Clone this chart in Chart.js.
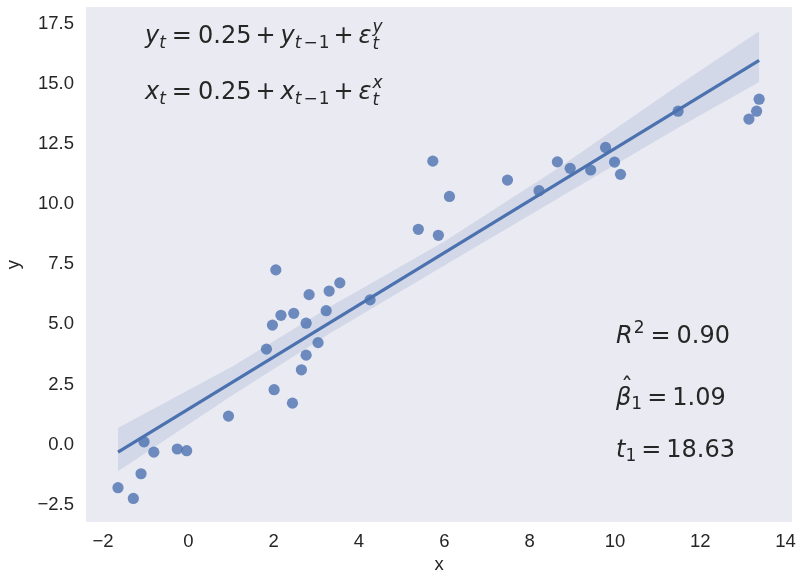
<!DOCTYPE html>
<html>
<head>
<meta charset="utf-8">
<script src="https://cdn.jsdelivr.net/npm/chart.js@4/dist/chart.umd.min.js"></script>
<style>
  html, body { margin: 0; padding: 0; background: #ffffff; }
  #wrap { width: 803px; height: 577px; }
</style>
</head>
<body>
<div id="wrap"><canvas id="chart" width="803" height="577"></canvas></div>
<script>
// scatter points
const pointsX = [-1.65, -1.29, -1.11, -1.04, -0.81, -0.26, -0.04, 0.94, 1.83, 1.97,
    2.17, 2.01, 2.44, 2.47, 2.76, 2.65, 2.76, 2.83, 3.04, 3.23,
    3.30, 3.55, 4.26, 2.05, 5.73, 5.39, 5.86, 6.12, 7.48, 8.22,
    8.65, 8.95, 9.43, 9.78, 9.99, 10.13, 11.48, 13.14, 13.32, 13.38];
const pointsY = [-1.80, -2.25, -1.22, 0.11, -0.32, -0.19, -0.26, 1.18, 3.97, 4.97,
    5.38, 2.28, 1.72, 5.46, 5.05, 3.11, 3.72, 6.24, 4.24, 5.57,
    6.39, 6.73, 6.02, 7.27, 11.80, 8.96, 8.71, 10.33, 11.01, 10.57,
    11.77, 11.50, 11.43, 12.37, 11.76, 11.25, 13.88, 13.55, 13.88, 14.38];

// fitted line ends
const fitX = [-1.65, 13.38];
const fitY = [-0.32, 16.00];

// confidence band edges
const bandX = [-1.65, 1.05, 3.32, 6.00, 8.71, 11.48, 13.38];
const bandUpper = [0.68, 3.27, 5.74, 8.45, 11.56, 14.95, 17.21];
const bandLower = [-1.12, 2.07, 4.63, 7.45, 10.30, 13.19, 15.10];

const xTicks = [-2, 0, 2, 4, 6, 8, 10, 12, 14];
const yTicks = [-2.5, 0, 2.5, 5, 7.5, 10, 12.5, 15, 17.5];

const blue = '#4C72B0';
const textColor = '#262626';
const tickFont = { family: '"Liberation Sans", Arial, sans-serif', size: 18.5 };
const mathFont = '"DejaVu Sans"';

const pairUp = (xs, ys) => xs.map((x, i) => ({ x: x, y: ys[i] }));
const minus = (s) => s.replace('-', '\u2212');

// grey panel behind the data
const panelPlugin = {
    id: 'panel',
    beforeDraw(chart) {
        const { ctx, chartArea: a } = chart;
        ctx.save();
        ctx.fillStyle = '#EAEAF2';
        ctx.fillRect(a.left, a.top, a.right - a.left, a.bottom - a.top);
        ctx.restore();
    }
};

// draws a row of pieces, each {t, it, s, dy, gap, stay}
function drawRun(ctx, x, y, pieces) {
    pieces.forEach(p => {
        ctx.font = `${p.it ? 'italic ' : ''}${p.s || 24}px ${mathFont}`;
        ctx.fillText(p.t, x, y + (p.dy || 0));
        if (!p.stay) {
            x += ctx.measureText(p.t).width + (p.gap || 0);
        }
    });
    return x;
}

function recursion(v) {
    return [
        { t: v, it: true },
        { t: 't', it: true, s: 17, dy: 5, gap: 6 },
        { t: '=', gap: 6 },
        { t: '0.25', gap: 4 },
        { t: '+', gap: 5 },
        { t: v, it: true },
        { t: 't', it: true, s: 17, dy: 5, gap: 2 },
        { t: '\u2212', s: 17, dy: 5, gap: 1 },
        { t: '1', s: 17, dy: 5, gap: 4 },
        { t: '+', gap: 5 },
        { t: '\u03b5', it: true, gap: 1 },
        { t: v, it: true, s: 17, dy: -11, stay: true },
        { t: 't', it: true, s: 17, dy: 6 }
    ];
}

const mathPlugin = {
    id: 'math',
    afterDraw(chart) {
        const ctx = chart.ctx;
        ctx.save();
        ctx.fillStyle = textColor;
        ctx.textBaseline = 'alphabetic';
        ctx.textAlign = 'left';

        drawRun(ctx, 145, 43, recursion('y'));
        drawRun(ctx, 145, 99, recursion('x'));

        drawRun(ctx, 616, 343, [
            { t: 'R', it: true, gap: 1 },
            { t: '2', s: 17, dy: -10, gap: 6 },
            { t: '=', gap: 6 },
            { t: '0.90' }
        ]);

        // beta hat
        ctx.font = `24px ${mathFont}`;
        ctx.fillText('\u02c6', 621, 395);
        drawRun(ctx, 616, 405, [
            { t: '\u03b2', it: true },
            { t: '1', s: 17, dy: 4, gap: 5 },
            { t: '=', gap: 5 },
            { t: '1.09' }
        ]);

        drawRun(ctx, 616, 457, [
            { t: 't', it: true },
            { t: '1', s: 17, dy: 4, gap: 5 },
            { t: '=', gap: 5 },
            { t: '18.63' }
        ]);
        ctx.restore();
    }
};

new Chart(document.getElementById('chart'), {
    type: 'scatter',
    data: {
        datasets: [
            {
                label: 'band upper',
                data: pairUp(bandX, bandUpper),
                showLine: true,
                borderWidth: 0,
                pointRadius: 0,
                backgroundColor: 'rgba(76, 114, 176, 0.15)',
                fill: '+1',
                order: 1
            },
            {
                label: 'band lower',
                data: pairUp(bandX, bandLower),
                showLine: true,
                borderWidth: 0,
                pointRadius: 0,
                fill: false,
                order: 1
            },
            {
                label: 'fit',
                data: pairUp(fitX, fitY),
                showLine: true,
                borderColor: blue,
                borderWidth: 3.2,
                pointRadius: 0,
                fill: false,
                order: 2
            },
            {
                label: 'points',
                data: pairUp(pointsX, pointsY),
                backgroundColor: 'rgba(76, 114, 176, 0.8)',
                borderWidth: 0,
                pointRadius: 5.6,
                order: 3
            }
        ]
    },
    options: {
        responsive: false,
        animation: false,
        layout: { padding: { left: 0, top: 7, right: 11, bottom: 0 } },
        plugins: {
            legend: { display: false },
            tooltip: { enabled: false },
            filler: { drawTime: 'beforeDatasetDraw' }
        },
        scales: {
            x: {
                type: 'linear',
                min: -2.40,
                max: 14.15,
                grid: { display: false, drawTicks: false },
                border: { display: false },
                afterBuildTicks: (scale) => { scale.ticks = xTicks.map(v => ({ value: v })); },
                afterFit: (scale) => {
                    scale.height = 55;
                    scale.paddingLeft = 0;
                    scale.paddingRight = 0;
                },
                ticks: {
                    color: textColor,
                    font: tickFont,
                    padding: 9,
                    maxRotation: 0,
                    callback: (v) => minus(String(v))
                },
                title: {
                    display: true,
                    text: 'x',
                    color: textColor,
                    font: tickFont,
                    padding: { top: 0, bottom: 1 }
                }
            },
            y: {
                type: 'linear',
                min: -3.23,
                max: 18.22,
                grid: { display: false, drawTicks: false },
                border: { display: false },
                afterBuildTicks: (scale) => { scale.ticks = yTicks.map(v => ({ value: v })); },
                afterFit: (scale) => {
                    scale.width = 86;
                    scale.paddingTop = 0;
                    scale.paddingBottom = 0;
                },
                ticks: {
                    color: textColor,
                    font: tickFont,
                    padding: 12,
                    callback: (v) => minus(v.toFixed(1))
                },
                title: {
                    display: true,
                    text: 'y',
                    color: textColor,
                    font: tickFont,
                    padding: { top: 3, bottom: 0 }
                }
            }
        }
    },
    plugins: [panelPlugin, mathPlugin]
});
</script>
</body>
</html>
